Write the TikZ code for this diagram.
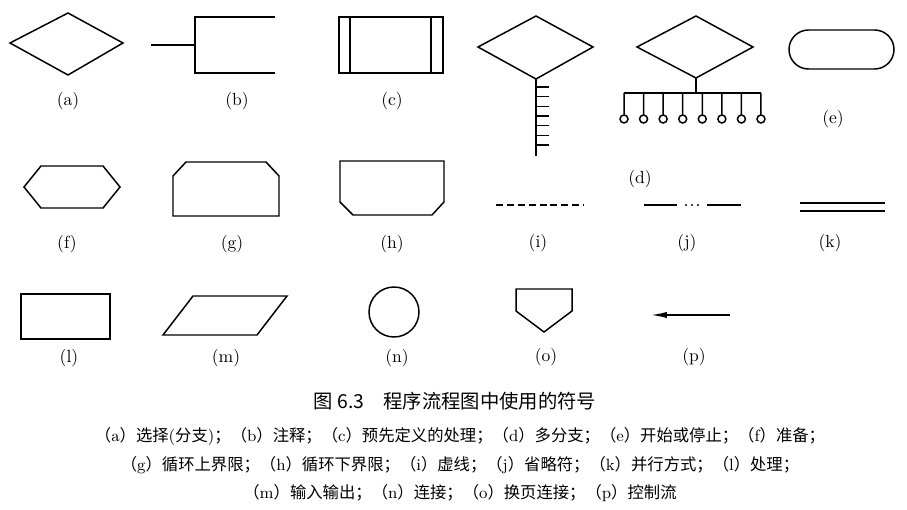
\documentclass[tikz,border=0pt]{standalone}
\usepackage{fontspec}
\newfontfamily\cjk{Noto Sans CJK SC}
\usetikzlibrary{arrows.meta}
\newcommand{\itm}[1]{（{\rmfamily #1}）}

\begin{document}
\begin{tikzpicture}[x=0.02cm,y=-0.02cm,line join=miter,
    sym/.style={line width=0.85pt},
    lbl/.style={font=\normalsize},
    capline/.style={font=\cjk\fontsize{9.3}{11}\selectfont}]
  \useasboundingbox (0,0) rectangle (907,510);
  % (a) selection
  \draw[sym] (10,43) -- (68,13) -- (123,43) -- (68,75) -- cycle;
  \node[lbl] (la) at (68,101) {(a)};
  % (b) comment
  \draw[sym] (151,45) -- (195,45);
  \draw[sym] (275,17) -- (195,17) -- (195,73) -- (275,73);
  \node[lbl] (lb) at (237,101) {(b)};
  % (c) predefined process
  \draw[sym] (339,17) rectangle (443,73);
  \draw[sym] (350,17) -- (350,73) (431,17) -- (431,73);
  \node[lbl] (lc) at (392,101) {(c)};
  % (d) multiway branch, two forms
  \draw[sym] (478,47) -- (536,16) -- (593,47) -- (536,79) -- cycle;
  \draw[sym] (536,79) -- (536,156);
  \foreach \y in {87,96.67,...,146} \draw[sym] (536,\y) -- (549,\y);
  \draw[sym] (637,47) -- (696,16) -- (753,47) -- (696,78) -- cycle;
  \draw[sym] (696,78) -- (696,93) (624,93) -- (761,93);
  \foreach \i in {0,...,7}
    \draw[sym] (624+\i*19.57,93) -- ++(0,22) ++(0,4) circle[radius=0.08cm];
  \node[lbl] (ld) at (640,179) {(d)};
  % (e) terminator
  \draw[sym,rounded corners=0.39cm] (789,30) rectangle (894,69);
  \node[lbl] (le) at (833,119) {(e)};
  % (f) preparation
  \draw[sym] (24,187) -- (41,166) -- (103,166) -- (120,187) -- (103,208) -- (41,208) -- cycle;
  \node[lbl] (lf) at (67,244) {(f)};
  % (g) loop limit, upper
  \draw[sym] (173,176) -- (186,162) -- (266,162) -- (279,176) -- (279,216) -- (173,216) -- cycle;
  \node[lbl] (lg) at (232,244) {(g)};
  % (h) loop limit, lower
  \draw[sym] (340,161) -- (444,161) -- (444,202) -- (432,215) -- (353,215) -- (340,202) -- cycle;
  \node[lbl] (lh) at (392,244) {(h)};
  % (i) dashed line
  \draw[sym,dash pattern=on 4pt off 2.2pt] (496,205) -- (584,205);
  \node[lbl] (li) at (538,243) {(i)};
  % (j) ellipsis
  \draw[sym] (644,205) -- (677,205) (707,205) -- (741,205);
  \foreach \x in {686,692,698} \fill (\x,205) circle[radius=0.6pt];
  \node[lbl] (lj) at (687,243) {(j)};
  % (k) parallel mode
  \draw[sym] (800,203) -- (885,203) (800,211) -- (885,211);
  \node[lbl] (lk) at (830,243) {(k)};
  % (l) process
  \draw[sym] (21,294) rectangle (110,339);
  \node[lbl] (ll) at (69,358) {(l)};
  % (m) input / output
  \draw[sym] (193,296) -- (287,296) -- (257,335) -- (163,335) -- cycle;
  \node[lbl] (lm) at (226,358) {(m)};
  % (n) connector
  \draw[sym] (394,312) circle[radius=0.5cm];
  \node[lbl] (ln) at (397,358) {(n)};
  % (o) off-page connector
  \draw[sym] (516,289) -- (572,289) -- (572,311) -- (544,332) -- (516,311) -- cycle;
  \node[lbl] (lo) at (546,357) {(o)};
  % (p) flow of control
  \coordinate (pstart) at (730,315);
  \coordinate (pend) at (651,315);
  \draw[sym,-{Latex[length=9pt,width=3.5pt]}] (pstart) -- (pend);
  \node[lbl] (lp) at (694,357) {(p)};
  % caption
  \node[font=\cjk\fontsize{11}{13}\selectfont] (title) at (455,401)
    {图~6.3\quad 程序流程图中使用的符号};
  \node[capline] (cap1) at (460,437)
    {\itm{a}选择{\rmfamily(}分支{\rmfamily)}；\itm{b}注释；\itm{c}预先定义的处理；\itm{d}多分支；\itm{e}开始或停止；\itm{f}准备；};
  \node[capline] (cap2) at (460,465)
    {\itm{g}循环上界限；\itm{h}循环下界限；\itm{i}虚线；\itm{j}省略符；\itm{k}并行方式；\itm{l}处理；};
  \node[capline] (cap3) at (460,493)
    {\itm{m}输入输出；\itm{n}连接；\itm{o}换页连接；\itm{p}控制流};
\end{tikzpicture}
\end{document}
